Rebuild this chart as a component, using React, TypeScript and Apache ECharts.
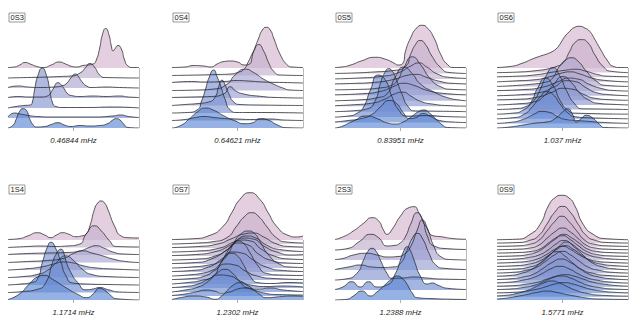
import React, { useEffect, useRef } from "react";
import * as echarts from "echarts";

// ---------- data ----------
const modeNames = ["0S3", "0S4", "0S5", "0S6", "1S4", "0S7", "2S3", "0S9"];
const freqLabels = ["0.46844 mHz", "0.64621 mHz", "0.83951 mHz", "1.037 mHz", "1.1714 mHz", "1.2302 mHz", "1.2388 mHz", "1.5771 mHz"];

// each ridge: [x (% of panel width), height] ; ridges listed bottom -> top
const ridges0S3 = [
  [[0,0],[3.8,2.7],[6.4,9.3],[8.9,16.7],[11.5,19.3],[14,17.7],[16.5,9.3],[19.1,3.3],[21.6,1],[28,1.5],[33,3.5],[38.2,5.3],[43,3],[48,1.5],[55,2.5],[62,2],[70,2.5],[76.3,4.5],[80,8],[82.7,9.3],[85.5,8],[88,4.5],[91.6,0.5],[100,0]],
  [[0,1],[5,5],[9,4],[16,2.5],[22,1.5],[35,1],[50,1],[65,1],[80,2],[86,3],[92,1.5],[100,0.5]],
  [[0,0],[6,1.5],[12,2.5],[17,3],[18.6,6],[20.4,19],[22.9,32.7],[26.2,40],[29.3,32.7],[31.8,19],[33.8,6],[36.5,1.5],[42,0.5],[60,0.5],[80,1],[100,0]],
  [[0,0.5],[8,1.5],[16,1],[26,1],[30,2],[32,4],[34.4,9],[38.2,15.3],[41,12.5],[43,9],[45,5],[48.3,2.5],[55,1.5],[65,2],[75,1.5],[85,2],[92,1],[100,0.5]],
  [[0,0.5],[8,2],[15,1],[25,0.5],[35,1],[42,2.5],[45,5],[48,10],[51.5,14],[54,11],[56,7],[60,2],[64,0.5],[75,1],[85,0.5],[100,0]],
  [[0,0],[15,0.5],[30,1],[40,1.5],[48,2],[55,5],[59,10],[62.5,14.5],[66,11],[70,3],[74,0.5],[100,0]],
  [[0,0.5],[5,1],[9,3],[13,5.5],[17,4],[22,1.5],[27,0.5],[33,3],[39,6],[44,4],[49,1.5],[53,1],[57,2.5],[61,3],[65,4],[67.4,8],[70,20],[72,33],[74.6,39.5],[77.1,33],[78.9,22],[80.2,17],[81.5,19],[84,22.5],[86.5,19],[89,8],[91.6,2],[95,0.5],[100,0.5]],
];

const ridges0S4 = [
  [[0,0],[6.4,2.3],[14,10],[19,15.7],[25.4,20],[31.8,17.7],[39.4,12.3],[47,7.7],[56,4.3],[61,5],[67.4,9.3],[73.8,7.7],[80,3.3],[87.8,0.3],[100,0]],
  [[0,0],[10,1],[18,3],[25,4],[32,3],[40,2],[50,1.5],[60,1],[75,1.5],[85,0.5],[100,0]],
  [[0,0],[12,0.5],[19.1,3],[22.9,13],[25.4,23],[28.5,36],[31.8,43],[34.5,36],[36.9,28],[40.7,13],[44.5,3],[49.6,0.5],[60,0.5],[100,0]],
  [[0,0],[10,1],[20,2],[28,3.5],[33,8.7],[35.6,18.7],[38.2,25.3],[40.7,20],[43.3,12],[47,3.7],[52,1],[65,0.5],[100,0]],
  [[0,0.5],[15,1],[30,1.5],[39.4,4],[44.5,11.3],[48.3,7.3],[54.7,4],[67.4,1.7],[80,0.5],[100,0]],
  [[0,0],[20,0.5],[32,1.5],[42,6.3],[48.3,15.7],[56,21.3],[62.3,18],[70,11.3],[77.6,6.3],[85,2.3],[90,0.5],[100,0]],
  [[0,0.5],[15,1.5],[25,1],[40,1.5],[50,2.5],[58,2],[70,1],[85,0.5],[100,0]],
  [[0,0],[20,0.5],[35,1],[45,1.5],[50,3],[54.7,6],[58.5,14.3],[62.3,24.3],[66.2,31],[70,24.3],[73.8,12.7],[77.6,4.3],[82.7,0.5],[100,0]],
  [[0,0.5],[10,1],[16.5,2.5],[24,2],[30,1],[34.4,4],[40,6.5],[44.5,7],[50,6],[55,3],[58.5,3.5],[62.3,16.7],[66.2,30],[69,38],[72,40.7],[75,38],[77.6,30],[82.7,13.3],[87.8,3.3],[91.6,1],[100,0.5]],
];

const ridges0S5 = [
  [[0,0],[5,1.5],[14,7],[24,12],[32,9.5],[40,5],[46,4],[52,6],[58,11],[64,16.5],[68,18],[72,15],[77,9],[82,3],[86,0.5],[100,0]],
  [[0,0.5],[10,2],[20,4],[28,8],[35,16],[41,22],[47,19],[52,10],[57,4],[62,5],[67,9],[73,6],[80,2],[90,0.5],[100,0]],
  [[0,0],[10,1],[17,4],[21.8,10],[27,27],[33,42],[38.5,37],[43.6,20],[48.7,7],[55,1],[70,1.5],[85,0.5],[100,0]],
  [[0,0],[15,1],[25,3],[30.8,11.3],[34.6,28],[38,39],[41,43],[44,40],[46,34.7],[51,18],[56,4.7],[61.5,0.7],[75,0.5],[100,0]],
  [[0,0.5],[15,1.5],[28,3],[38,7],[45,12],[52,14],[58,10],[65,5],[75,2],[88,0.5],[100,0]],
  [[0,0],[20,1],[32,3],[39.7,7],[46,23.7],[52.6,33.7],[59,27],[65,17],[75.6,8.7],[86,3],[96,0.5],[100,0]],
  [[0,0.5],[20,1.5],[35,4],[45,9],[52,12],[60,10],[70,5],[82,2],[100,0.5]],
  [[0,0],[20,0.5],[35,2],[42,4],[47.4,9],[52.6,22.3],[59,33],[65,25.7],[73,10.7],[80.8,3],[88.5,0.5],[100,0]],
  [[0,0.5],[15,1],[30,2],[45,5],[55,9],[62,10],[70,7],[80,3],[90,1],[100,0.5]],
  [[0,0],[20,1],[35,2.5],[48,6],[58,13],[64,16],[70,12],[78,5],[88,1.5],[100,0.5]],
  [[0,0],[15,0.5],[30,1.5],[45,3],[54,7.3],[57.7,19],[61.5,29],[65,33],[69,29],[74,17.3],[80.8,5.7],[87,1],[100,0]],
  [[0,0.5],[5,1],[12,3],[20,7],[30.8,10.7],[38,9],[45,5],[48,3],[52,5],[53.8,16.7],[57.7,30],[62.3,40],[66.7,42.7],[70.5,40],[75.6,30],[80.8,13.3],[86,3.3],[91,0.5],[100,0.5]],
];

const ridges0S6 = [
  [[0,0],[10,1],[20,3],[30,5],[38,6],[45,10],[50,16],[54,19.3],[57.5,14],[60.6,6],[64,9],[68.2,12.7],[73,10],[78,4],[82,0.5],[100,0]],
  [[0,0],[10,1],[20,4],[28,9],[34,12],[40,11],[46,7],[52,4],[60,3],[70,2],[80,1],[100,0]],
  [[0,0],[12,1],[20,4],[27,12],[33,22],[38,27],[43,24],[48,15],[54,6],[60,2],[70,1],[100,0]],
  [[0,0],[12,1],[20,4],[26,12],[31,26],[37,36],[43,28],[48,14],[54,4],[60,1],[100,0]],
  [[0,0],[15,1],[22,3],[27.5,8],[32.6,19],[37.7,34],[42.7,42],[47.8,34],[53,19],[59.3,5.7],[65.6,0.7],[80,0.5],[100,0]],
  [[0,0],[15,1],[28,3],[36,9],[43,20],[50.4,28.3],[57,22],[63,12],[70,5],[78,1.5],[90,0.5],[100,0]],
  [[0,0.5],[15,1],[30,3],[42,8],[50,12],[58,11],[66,6],[75,2],[88,0.5],[100,0]],
  [[0,0],[18,1],[32,3],[44,9],[53,15],[60,14],[68,8],[76,3],[86,1],[100,0]],
  [[0,0.5],[20,1.5],[35,4],[46,9],[55,13],[62,12],[70,7],[80,2.5],[90,0.5],[100,0]],
  [[0,0],[15,1],[28,2.5],[36,4],[41.5,7],[47.8,20.3],[53,27],[56.7,28.7],[61.8,25.3],[68.2,15.3],[75.8,5.3],[83.5,1],[100,0]],
  [[0,0],[15,1],[28,2],[40,5],[50,9],[56,10],[63,8],[72,4],[82,1.5],[100,0]],
  [[0,0.5],[15,1],[30,2.5],[42,5],[52,7],[60,8],[68,6],[76,3],[85,1],[100,0.5]],
  [[0,0],[15,0.5],[30,2],[40,4],[45,6],[50.4,9.7],[55.5,21.3],[59.3,29.7],[64.4,33],[69.5,29.7],[74.6,18],[80.9,6.3],[87.3,1.3],[100,0]],
  [[0,0.5],[10,1.5],[19.8,5],[27,9],[32.6,11.7],[38,14],[41.5,16],[45,19],[47.8,23.3],[51.5,31],[55.5,36.7],[59,40.5],[63,41.7],[67,40],[70.7,36.7],[74.5,29],[78.4,20],[84.7,6.7],[88.5,1.7],[94,0.5],[100,0.5]],
];

const ridges1S4 = [
  [[0,0.5],[8.4,5.7],[16.1,15.7],[22.5,23],[27.6,24.7],[34,20.7],[44.2,12.3],[53.2,5.7],[60.1,2.3],[65,6],[69.8,11.7],[73.5,10],[77.5,5.7],[82.6,1.3],[100,0]],
  [[0,0],[12,1],[22,3],[28.9,10],[34,30],[37.5,40],[40.4,43.3],[43,38],[44.2,31.7],[48,20],[53.2,10],[59.6,2.7],[65,3.5],[70,5],[76,3],[85,0.5],[100,0]],
  [[0,0],[10,1],[18,2.5],[22.5,6],[26.3,22.7],[30,37.7],[32.7,42.7],[36.6,36],[40.4,22.7],[44.2,9.3],[49.4,2],[60,1],[75,0.5],[100,0]],
  [[0,0],[12,1],[22,3],[30,7],[37,15],[44,21.7],[50,17],[57,8],[64,3],[75,1],[100,0]],
  [[0,0],[12,1],[25,3],[35,6],[42,8],[50,7],[58,4],[68,2],[80,1],[100,0]],
  [[0,0],[15,1],[30,2],[42,4],[50,9],[57,11.7],[64,9.5],[72,6.7],[80,3.5],[90,1],[100,0]],
  [[0,0.5],[15,1.5],[30,2],[45,2.5],[55,4],[62,7.5],[67.3,9.3],[73,7],[80,3],[88,1],[100,0.5]],
  [[0,0],[15,1],[25,1.5],[35,1],[45,1.5],[54.5,3.3],[59.6,13.3],[66,21.7],[71.1,16.7],[77.5,6.7],[82.6,1],[100,0.5]],
  [[0,0.5],[8.4,1.3],[15,4],[22.5,7.3],[28,5],[32.7,2.3],[37,5],[41.7,7.3],[46,6],[51.9,3.3],[56,4],[59.6,6],[62.5,14],[66,30.7],[68.5,37],[71.1,39],[73.7,37],[76.2,30.7],[81.3,14],[86.4,4],[91.6,2.3],[100,2]],
];

const ridges0S7 = [
  [[0,0.5],[6.3,2.3],[16.5,4],[26,3],[33,0.7],[38,4],[41.8,9],[47,15],[51.9,17.3],[57,15],[62,10.7],[67,5.5],[72,2.3],[82.3,3.3],[92.4,4],[100,3.5]],
  [[0,0.5],[10,2],[18,4],[26,6],[32,5],[38,3],[44,4],[50,7],[56,8],[62,6],[70,3],[80,1.5],[100,1]],
  [[0,0],[10,2],[20,5],[28,11],[34.5,19],[40.5,22.7],[46,19],[52,10],[58,4],[66,3],[75,4],[85,2],[100,0.5]],
  [[0,0.5],[10,1.5],[20,4],[28,9],[36,13],[44,12],[52,7],[60,3],[72,1.5],[85,2],[100,1]],
  [[0,0],[12,1.5],[22,3.5],[31.6,8],[36.7,19.7],[41,28],[45.6,30.7],[50,28],[54.4,19.7],[59.5,8],[65.8,1.3],[75,0.5],[90,1.5],[100,1]],
  [[0,0.5],[15,1.5],[25,4],[33,10],[41,16],[48,15],[56,9],[65,4],[78,1.5],[100,0.5]],
  [[0,0],[12,1],[24,3],[30,5.5],[35.4,10],[41.8,23.3],[46.5,32],[50.6,35],[55,32],[59.5,23.3],[65.8,10],[72,2.7],[82,1],[100,0.5]],
  [[0,0.5],[15,1.5],[28,5],[38,13],[46,20],[53,19],[62,12],[72,5],[85,1.5],[100,0.5]],
  [[0,0],[15,1],[28,3],[36,6],[41.8,12],[48,27],[53,34.5],[58.2,37],[63,34.5],[67,27],[73.4,13.7],[82.3,3.7],[90,1],[100,0.5]],
  [[0,0.5],[18,1.5],[30,5],[42,14],[50,21],[58,19],[66,10],[76,3.5],[88,1],[100,0.5]],
  [[0,0],[20,1],[33,4],[44,12],[53,20],[60,19],[68,11],[78,4],[90,1],[100,0.5]],
  [[0,0.5],[18,1.5],[32,4],[45,11],[55,18],[62,17],[70,10],[80,4],[92,1],[100,1.5]],
  [[0,0],[20,1],[35,3.5],[47,10],[57,16],[64,14],[72,7],[82,2.5],[100,0.5]],
  [[0,0.5],[20,1.5],[35,4],[45,9],[55,14],[62,15],[70,11],[80,4],[90,1.5],[100,1]],
  [[0,0],[20,1],[32,2.5],[41.8,6.3],[49.4,18],[55,27],[60.8,31.3],[66.5,27],[72,18],[79.7,6.3],[87.3,2],[100,1]],
  [[0,0.5],[16.5,1.3],[29,4.7],[39.2,14],[45.6,27.3],[51.9,40.7],[59.5,47.3],[67,40.7],[73.4,27.3],[79.7,14],[88.6,4.7],[95,3],[100,4]],
];

const ridges2S3 = [
  [[0,0],[9,0.7],[14,4],[20.5,9],[27,4],[32,8],[35.9,12.3],[42.3,20],[47.4,24],[52.6,20],[55,15.7],[59,7],[62.8,2.3],[75.6,1.3],[91,0.7],[100,0.5]],
  [[0,0.5],[6,3],[12.8,8.3],[19.2,3],[25.6,8.3],[32,3],[39.7,5],[46.2,16.7],[50,30],[52.5,39],[55.1,43.3],[57.7,39],[60.3,30],[65.4,13.3],[70.5,6],[74.4,7],[78.2,5],[85.9,1.7],[100,0.5]],
  [[0,0],[8,1],[16.7,6.7],[21.8,20],[25,28.5],[28.2,31.7],[31.5,28.5],[34.6,20],[39.7,6.7],[43.6,1.7],[52,2],[60,3],[70,2],[80,1],[100,0.5]],
  [[0,0.5],[11.5,3.3],[19,5],[28,3],[36,2.5],[44,3],[50,6.7],[55,20],[59,31.7],[62.8,36.7],[66.7,31.7],[71.8,16.7],[77,5],[83.3,1.7],[100,0.5]],
  [[0,0.5],[6,1.5],[14,5],[24.4,6.7],[32,5],[40,3],[48,3.5],[53,6],[57.7,13.3],[62.8,30],[66.7,40],[70.5,31.7],[75.6,13.3],[80.8,3.3],[88,0.5],[100,0]],
  [[0,0],[9,1.3],[19.2,9],[27,15.7],[33.3,12.3],[39.7,4],[45,4.5],[50,7.3],[54,14],[57.7,25.7],[62.8,37.3],[66.7,30.7],[70.5,14],[75.6,4],[86,1.3],[100,0.5]],
  [[0,0.5],[6.4,3.3],[14,9],[21.8,16.7],[28.2,22.3],[33.3,19],[37,10],[39.7,5.7],[43.6,10.7],[50,24],[56.4,32.3],[60.3,33.3],[64,27.3],[69.2,14],[75.6,4],[80.8,3.3],[91,1.3],[100,0.7]],
];

const ridges0S9 = [
  [[0,1],[8,2],[16,3.8],[23,5.5],[30,7.5],[38,9],[46,7.5],[53,5.5],[60,3.8],[68,2],[78,1],[100,0.5]],
  [[0,0.8],[8,1.5],[16,3.5],[23,6],[29,9.5],[35.5,13.5],[41.8,15.7],[48,13.5],[54.5,9.5],[61,6],[68,3.5],[78,1.5],[100,0.5]],
  [[0,0.5],[12,1],[22,2.2],[30,4],[37,6.5],[44,9.3],[51,10.7],[58,9.3],[65,6.5],[72,4],[80,2.2],[90,1],[100,0.5]],
  [[0,0.5],[10,1],[20,2.5],[28,4.5],[35,8],[42,12],[49.4,14],[56,12],[63,8],[70,4.5],[78,2.5],[88,1],[100,0.5]],
  [[0,0.5],[12,1],[22,2.5],[31,4.5],[38,7.5],[45,10.5],[52,12],[59,10.5],[66,7.5],[73,4.5],[82,2.5],[92,1],[100,0.5]],
  [[0,0.5],[10,1.2],[19,3],[27,5.5],[34,9.5],[41,14.5],[48,17],[55,14.5],[62,9.5],[69,5.5],[77,3],[87,1.2],[100,0.3]],
  [[0,0.5],[10,1.2],[20,3],[28,6],[35,11.5],[42,17.5],[49,21],[56,17.5],[63,11.5],[70,6],[78,3],[88,1.2],[100,0.3]],
  [[0,0.5],[10,1.2],[19,3.5],[26,7],[33,13.5],[39.5,21],[45.6,25],[51.5,21],[58,13.5],[65,7],[73,3.5],[84,1.2],[100,0.3]],
  [[0,0.3],[12,1],[22,3],[30,6],[37,12],[44,18.5],[50,22],[56,18.5],[63,12],[70,6],[78,3],[88,1],[100,0.3]],
  [[0,0.3],[14,1],[25,3],[33,7],[40,14.5],[47,23],[53,28],[59,23],[66,14.5],[73,7],[81,3],[91,1],[100,0.3]],
  [[0,0.3],[14,1],[24,2.5],[32,5.5],[39,11],[46,17.5],[52,21],[58,17.5],[65,11],[72,5.5],[80,2.5],[90,1],[100,0.3]],
  [[0,0.3],[14,1],[24,2.2],[31,4.5],[38,9],[44,14],[50,17],[56,14],[62,9],[69,4.5],[76,2.2],[86,1],[100,0.3]],
  [[0,0.3],[14,1],[24,2.5],[32,5],[39,10],[45,16],[51,19.5],[57,16],[63,10],[70,5],[78,2.5],[88,1],[100,0.3]],
  [[0,0.3],[14,0.8],[24,2.2],[31,5],[38,11],[44,17],[50,21],[56,17],[62,11],[69,5],[76,2.2],[86,0.8],[100,0.3]],
  [[0,0.3],[15,0.8],[26,2],[33,4.5],[39,10],[45,15.5],[51,19],[57,15.5],[63,10],[69,4.5],[76,2],[86,0.8],[100,0.3]],
  [[0,0.3],[15,0.8],[25,2],[32,5],[38,11.5],[44,18],[50,22],[56,18],[62,11.5],[68,5],[75,2],[85,0.8],[100,0.3]],
  [[0,0.3],[15,0.8],[25,2.5],[32,6.5],[38,15.5],[44,25],[49.5,30.5],[55,25],[61,15.5],[67,6.5],[74,2.5],[85,0.8],[100,0.3]],
  [[0,0.3],[15,0.8],[25,3],[32,8],[38,19],[44,31],[50,37],[56,31],[62,19],[68,8],[75,3],[85,0.8],[100,0.3]],
  [[0,0.3],[15,0.8],[25.3,5.7],[32.9,15.7],[39.2,34],[44,42],[49.4,44.7],[55,42],[59.5,34],[65.8,15.7],[73.4,5.7],[83.5,1.3],[100,0.3]],
];

const panelRidges = [ridges0S3, ridges0S4, ridges0S5, ridges0S6, ridges1S4, ridges0S7, ridges2S3, ridges0S9];

// ---------- layout / style ----------
const colLefts = [8, 172, 335, 497];
const plotWidth = 131;
const rowTops = [17, 187];
const rowBottoms = [128, 300];
const ridgeSpan = 60;
const labelTops = [12.5, 184.5];
const lowColor = [96, 136, 212];
const highColor = [212, 182, 206];

function fillColor(t: number): string {
  const c = lowColor.map((v, k) => Math.round(v + (highColor[k] - v) * t));
  return `rgba(${c[0]},${c[1]},${c[2]},0.66)`;
}

export default function App() {
  const ref = useRef<HTMLDivElement>(null);
  useEffect(() => {
    if (!ref.current) return;
    const chart = echarts.init(ref.current, null, { renderer: "svg" });
    const grids: any[] = [];
    const xAxes: any[] = [];
    const yAxes: any[] = [];
    const series: any[] = [];
    const titles: any[] = [];
    panelRidges.forEach((ridges, p) => {
      const row = Math.floor(p / 4);
      const col = p % 4;
      const top = rowTops[row];
      const h = rowBottoms[row] - top;
      grids.push({ left: colLefts[col], top, width: plotWidth, height: h, containLabel: false });
      xAxes.push({
        type: "value", gridIndex: p, min: 0, max: 100,
        axisLine: { show: false }, splitLine: { show: false },
        axisLabel: { show: false },
        axisTick: { show: true, customValues: [50], length: 3, lineStyle: { color: "#999", width: 0.8 } },
        name: freqLabels[p], nameLocation: "middle", nameGap: 8,
        nameTextStyle: { fontStyle: "italic", fontSize: 7.8, color: "#1e1e1e", fontFamily: "Liberation Sans, Arial, sans-serif" },
      });
      yAxes.push({ type: "value", gridIndex: p, min: 0, max: h, show: false });
      const n = ridges.length;
      const step = ridgeSpan / (n - 1);
      for (let i = n - 1; i >= 0; i--) {
        const base = i * step;
        const t = i / (n - 1);
        const s: any = {
          type: "line", xAxisIndex: p, yAxisIndex: p,
          data: ridges[i].map(([x, v]) => [x, base + v]),
          smooth: 0.6,
          showSymbol: false, symbol: "none", silent: true,
          lineStyle: { color: "#262626", width: 0.75 },
          areaStyle: { origin: base, color: fillColor(t), opacity: 1 },
        };
        if (i === n - 1) {
          s.markLine = {
            silent: true, symbol: "none", label: { show: false },
            lineStyle: { color: "#8a8a8a", width: 0.6, type: "solid" },
            data: [[{ coord: [100, 0] }, { coord: [100, ridgeSpan] }]],
          };
        }
        series.push(s);
      }
      titles.push({
        text: modeNames[p], left: colLefts[col] + 1, top: labelTops[row],
        padding: [1, 1.5], borderColor: "#555", borderWidth: 0.6,
        textStyle: { fontSize: 7.5, lineHeight: 7.5, fontWeight: "normal", color: "#222", fontFamily: "Liberation Sans, Arial, sans-serif" },
      });
    });
    chart.setOption({
      animation: false,
      backgroundColor: "#ffffff",
      title: titles,
      grid: grids,
      xAxis: xAxes,
      yAxis: yAxes,
      series,
    });
    return () => chart.dispose();
  }, []);
  return <div ref={ref} style={{ position: "absolute", left: 0, top: 0, width: 640, height: 327 }} />;
}
